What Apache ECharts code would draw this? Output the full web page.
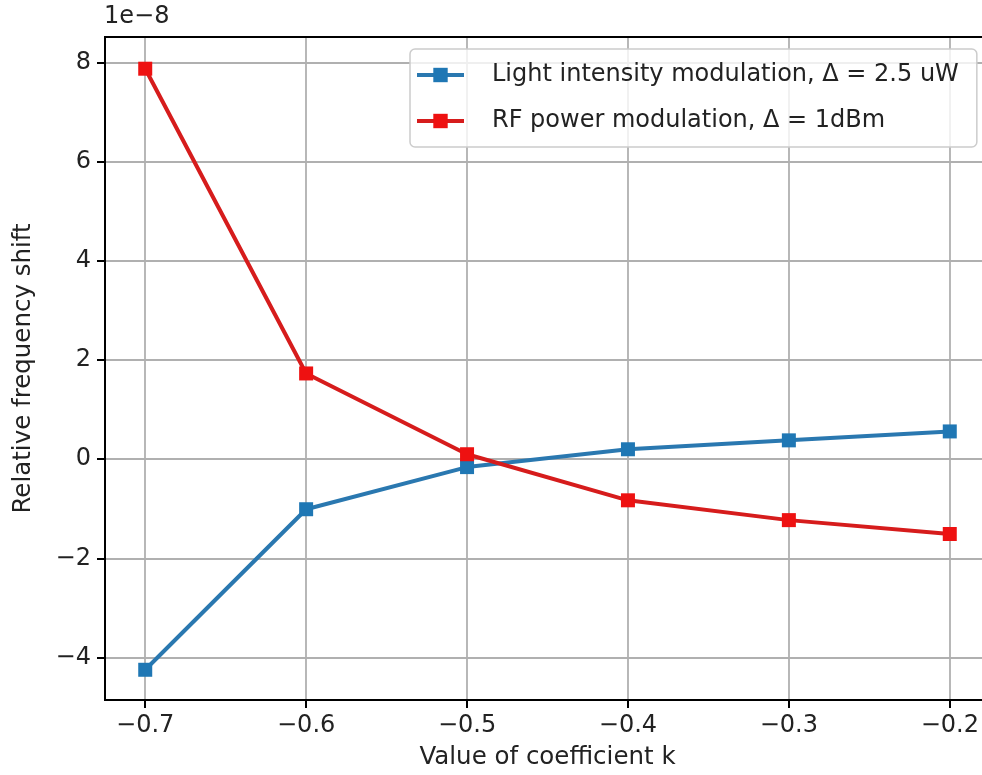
<!DOCTYPE html>
<html>
<head>
<meta charset="utf-8">
<title>Relative frequency shift</title>
<script src="https://cdn.jsdelivr.net/npm/echarts@6/dist/echarts.min.js"></script>
<style>
  html, body { margin: 0; padding: 0; background: #fff; overflow: hidden; }
  /* the plot box runs a few px past the right edge of the window */
  #chart { width: 990px; height: 775px; }
</style>
</head>
<body>
<div id="chart"></div>
<script>
// coefficient k on the x axis
var kValues = [-0.7, -0.6, -0.5, -0.4, -0.3, -0.2]
// relative frequency shift, in units of 1e-8
var lightValues = [-4.25, -1.01, -0.16, 0.2, 0.38, 0.56]
var rfValues = [7.88, 1.73, 0.1, -0.83, -1.23, -1.51]
var xTicks = [-0.7, -0.6, -0.5, -0.4, -0.3, -0.2]
var yTicks = [-4, -2, 0, 2, 4, 6, 8]
var seriesNames = ['Light intensity modulation, Δ = 2.5 uW', 'RF power modulation, Δ = 1dBm']

var font = 'DejaVu Sans'
var fs = 24

function pairs (ys) {
  return kValues.map(function (k, i) { return [k, ys[i]] })
}
function minus (s) {
  return String(s).replace('-', '\u2212')
}

var chart = echarts.init(document.getElementById('chart'))
chart.setOption({
  backgroundColor: '#fff',
  animation: false,
  textStyle: { fontFamily: font },
  grid: {
    left: 105,
    top: 37,
    right: 0,
    bottom: 73,
    show: true,
    borderColor: '#000',
    borderWidth: 2,
    z: 10
  },
  legend: {
    orient: 'vertical',
    left: 410,
    top: 49,
    padding: [12, 18, 12, 5],
    itemWidth: 47,
    itemHeight: 18,
    itemGap: 18,
    backgroundColor: 'rgba(255,255,255,0.8)',
    borderColor: '#cccccc',
    borderWidth: 1.5,
    borderRadius: 5,
    lineStyle: { width: 4 },
    textStyle: {
      fontFamily: font,
      fontSize: fs,
      color: '#222',
      lineHeight: 28,
      padding: [0, 0, 0, 23]
    },
    data: seriesNames
  },
  xAxis: {
    type: 'value',
    min: -0.725,
    max: -0.175,
    name: 'Value of coefficient k',
    nameLocation: 'middle',
    nameGap: 45,
    nameTextStyle: { fontFamily: font, fontSize: 24.5, color: '#222' },
    axisLine: { show: true, onZero: false, lineStyle: { color: '#000', width: 2 } },
    axisTick: {
      show: true,
      inside: false,
      length: 8,
      customValues: xTicks,
      lineStyle: { color: '#000', width: 2 }
    },
    axisLabel: {
      fontFamily: font,
      fontSize: fs,
      color: '#222',
      margin: 14,
      customValues: xTicks,
      formatter: function (v) { return minus(v.toFixed(1)) }
    },
    splitLine: {
      show: true,
      lineStyle: { color: '#b0b0b0', width: 1.8 }
    }
  },
  yAxis: {
    type: 'value',
    min: -4.86,
    max: 8.52,
    name: 'Relative frequency shift',
    nameLocation: 'middle',
    nameGap: 69,
    nameTextStyle: { fontFamily: font, fontSize: 24.5, color: '#222' },
    axisLine: { show: true, onZero: false, lineStyle: { color: '#000', width: 2 } },
    axisTick: {
      show: true,
      inside: false,
      length: 8,
      customValues: yTicks,
      lineStyle: { color: '#000', width: 2 }
    },
    axisLabel: {
      fontFamily: font,
      fontSize: fs,
      color: '#222',
      margin: 14,
      customValues: yTicks,
      formatter: function (v) { return minus(v) }
    },
    splitLine: {
      show: true,
      lineStyle: { color: '#b0b0b0', width: 1.8 }
    }
  },
  graphic: [{
    type: 'text',
    left: 104,
    top: 5,
    style: {
      text: '1e\u22128',
      fontFamily: font,
      fontSize: fs,
      fill: '#222'
    }
  }],
  series: [{
    name: seriesNames[0],
    type: 'line',
    data: pairs(lightValues),
    symbol: 'rect',
    symbolSize: 14,
    lineStyle: { color: '#2a78b0', width: 4 },
    itemStyle: { color: '#1f77b4' },
    z: 3
  }, {
    name: seriesNames[1],
    type: 'line',
    data: pairs(rfValues),
    symbol: 'rect',
    symbolSize: 14,
    lineStyle: { color: '#d61c1c', width: 4 },
    itemStyle: { color: '#ee1111' },
    z: 4
  }]
})

window.addEventListener('resize', function () {
  chart.resize()
})
</script>
</body>
</html>
